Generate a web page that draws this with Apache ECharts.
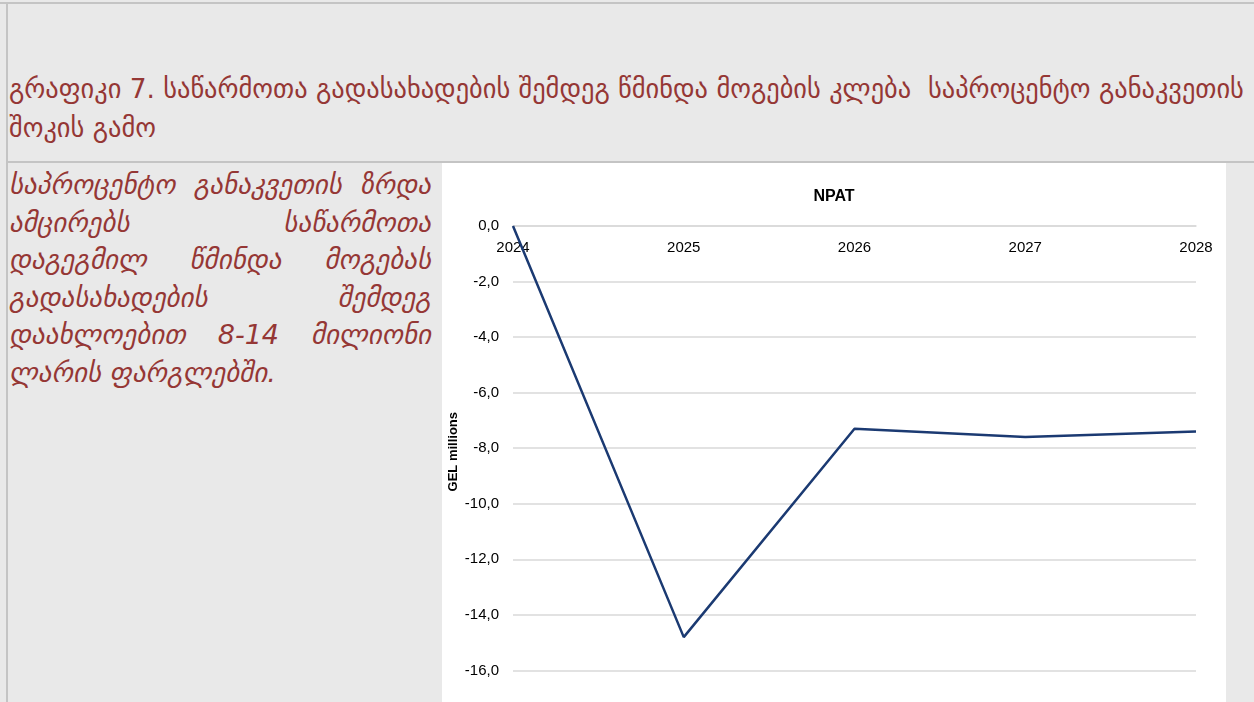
<!DOCTYPE html>
<html>
<head>
<meta charset="utf-8">
<script src="https://cdn.jsdelivr.net/npm/echarts@6/dist/echarts.min.js"></script>
<style>
    html, body { margin: 0; padding: 0; }
    body {
        width: 1254px;
        height: 702px;
        overflow: hidden;
        background: #e9e9e9;
        position: relative;
        font-family: "DejaVu Sans", sans-serif;
    }
    .frame-top { position: absolute; left: 0; top: 2px; width: 1254px; height: 2px; background: #c4c4c4; }
    .frame-left { position: absolute; left: 6px; top: 2px; width: 2px; height: 700px; background: #c4c4c4; }
    .frame-mid { position: absolute; left: 6px; top: 161px; width: 1248px; height: 2px; background: #c4c4c4; }
    .heading {
        position: absolute;
        left: 9px;
        top: 69px;
        color: #953735;
        font-size: 26.4px;
        line-height: 39px;
        white-space: nowrap;
    }
    .note {
        position: absolute;
        left: 9px;
        top: 166px;
        width: 422px;
        color: #953735;
        font-style: italic;
        font-size: 27px;
        line-height: 37.6px;
    }
    .note span { display: block; text-align: justify; text-align-last: justify; white-space: nowrap; }
    .note span.last { text-align-last: left; }
    #npat-chart {
        position: absolute;
        left: 442px;
        top: 163px;
        width: 784px;
        height: 600px;
        background: #ffffff;
    }
</style>
</head>
<body>
<div class="frame-top"></div>
<div class="frame-left"></div>
<div class="frame-mid"></div>
<div class="heading">გრაფიკი 7. საწარმოთა გადასახადების შემდეგ წმინდა მოგების კლება&nbsp; საპროცენტო განაკვეთის<br>შოკის გამო</div>
<div class="note">
    <span>საპროცენტო განაკვეთის ზრდა</span>
    <span>ამცირებს საწარმოთა</span>
    <span>დაგეგმილ წმინდა მოგებას</span>
    <span>გადასახადების შემდეგ</span>
    <span>დაახლოებით 8-14 მილიონი</span>
    <span class="last">ლარის ფარგლებში.</span>
</div>
<div id="npat-chart"></div>
<script>
const years = ["2024", "2025", "2026", "2027", "2028"];
const npat = [0.0, -14.8, -7.3, -7.6, -7.4];
const yTicks = { min: -18, max: 0, step: 2 };

const chart = echarts.init(document.getElementById("npat-chart"));

function commaFixed(value) {
    return value.toFixed(1).replace(".", ",");
}

// the zero line sits at the top of the grid, so the year labels hang just under it
chart.setOption({
    backgroundColor: "#ffffff",
    animation: false,
    title: {
        text: "NPAT",
        left: "center",
        top: 21,
        textStyle: {
            fontFamily: "Liberation Sans, Arial, sans-serif",
            fontSize: 16,
            fontWeight: "bold",
            color: "#000000",
        },
    },
    graphic: [
        {
            type: "text",
            left: 5,
            top: 249,
            rotation: Math.PI / 2,
            style: {
                text: "GEL millions",
                fontFamily: "Liberation Sans, Arial, sans-serif",
                fontSize: 13,
                fontWeight: "bold",
                fill: "#000000",
            },
        },
    ],
    grid: { left: 71, right: 30, top: 63, bottom: 37 },
    xAxis: {
        type: "category",
        position: "top",
        data: years,
        boundaryGap: false,
        axisLine: { show: true, onZero: false, lineStyle: { color: "#d9d9d9", width: 1.5 } },
        axisTick: { show: false },
        axisLabel: {
            inside: true,
            margin: 14,
            color: "#000000",
            fontFamily: "Liberation Sans, Arial, sans-serif",
            fontSize: 15,
            showMinLabel: true,
            showMaxLabel: true,
        },
    },
    yAxis: {
        type: "value",
        min: yTicks.min,
        max: yTicks.max,
        interval: yTicks.step,
        axisLine: { show: false },
        axisTick: { show: false },
        axisLabel: {
            margin: 14,
            color: "#000000",
            fontFamily: "Liberation Sans, Arial, sans-serif",
            fontSize: 15,
            formatter: commaFixed,
        },
        splitLine: { lineStyle: { color: "#d9d9d9", width: 1.5 } },
    },
    series: [
        {
            type: "line",
            data: npat,
            symbol: "none",
            lineStyle: { color: "#1b3a72", width: 2.5 },
        },
    ],
});
</script>
</body>
</html>
